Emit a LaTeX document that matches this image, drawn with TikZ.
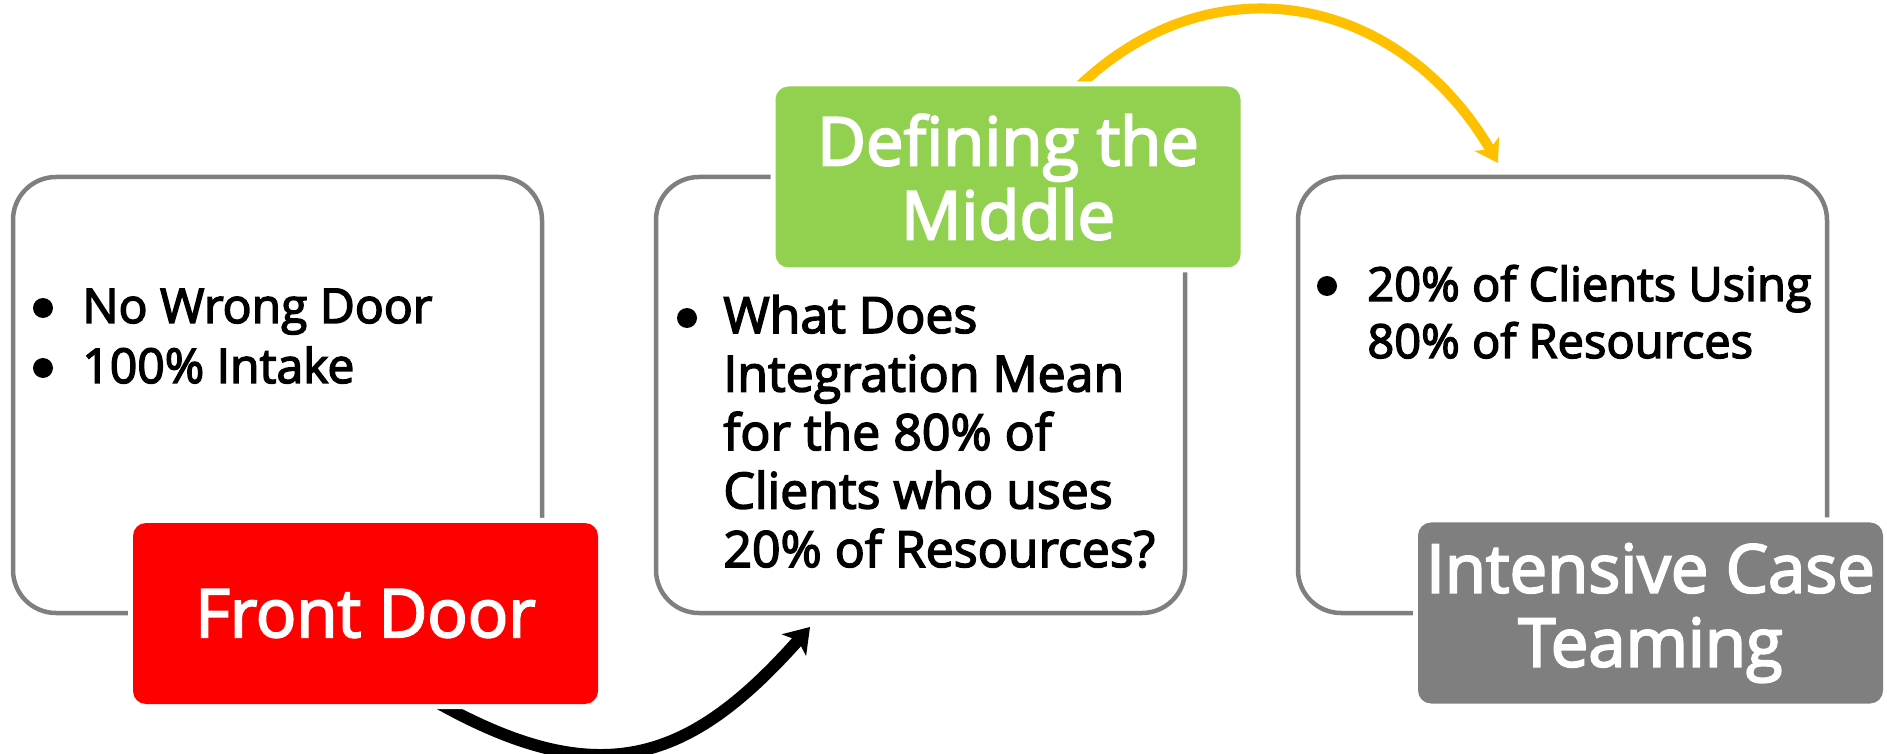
\documentclass[tikz,border=0pt]{standalone}
\usepackage{fontspec}
\setmainfont{Open Sans}
\newfontfamily\semifont{Open Sans}[FakeBold=3]
\usetikzlibrary{arrows.meta}
\definecolor{outl}{HTML}{7F7F7F}
\definecolor{redbox}{HTML}{FF0000}
\definecolor{greenbox}{HTML}{92D050}
\definecolor{graybox}{HTML}{7F7F7F}
\definecolor{arrowyellow}{HTML}{FFC000}
\begin{document}
\begin{tikzpicture}[x=0.5pt,y=-0.5pt,
  outlinebox/.style={draw=outl, line width=2.25pt, rounded corners=21.5pt, minimum width=264.5pt, minimum height=218pt, inner sep=0pt},
  headbox/.style={rounded corners=6.5pt, minimum width=232.5pt, minimum height=90.5pt, inner sep=0pt, text=white, align=center, font=\semifont\fontsize{33.5}{37}\selectfont, preaction={draw=white, line width=5pt}},
  bodyline/.style={anchor=base west, inner sep=0pt, font=\semifont\fontsize{24}{28}\selectfont},
  bodylinewide/.style={anchor=base west, inner sep=0pt, font=\semifont\fontsize{25}{28}\selectfont},
  bodylinenarrow/.style={anchor=base west, inner sep=0pt, font=\semifont\fontsize{23.5}{28}\selectfont},
  bulletdot/.style={circle, fill=black, minimum size=10pt, inner sep=0pt},
  blackarrow/.style={line width=6pt, -{Stealth[length=12pt,width=16pt,inset=3pt]}},
  yellowarrow/.style={draw=arrowyellow, line width=5pt, -{Stealth[length=11pt,width=14pt,inset=3pt]}},
]
\useasboundingbox (0,0) rectangle (1887,754);
% outline boxes
\node[outlinebox] (b1) at (277.5,395) {};
\node[outlinebox] (b2) at (920.5,395) {};
\node[outlinebox] (b3) at (1562.5,395) {};
% arrows
\coordinate (a1s) at (433,700);
\coordinate (a1e) at (810,627);
\draw[blackarrow] (a1s) .. controls (600,795) and (690,762) .. (a1e);
\coordinate (a2s) at (1073,92);
\coordinate (a2e) at (1498,163);
\draw[yellowarrow] (a2s) .. controls (1210,-45) and (1400,-5) .. (a2e);
% header boxes
\node[headbox, fill=redbox] (hd1) at (365.5,613.5) {Front Door};
\node[headbox, fill=greenbox] (hd2) at (1008,177) {Defining the\\Middle};
\node[headbox, fill=graybox] (hd3) at (1650.5,613) {Intensive Case\\Teaming};
% box 1 text
\node[bulletdot] (d11) at (43,308) {};
\node[bodyline] (t11) at (82,323) {No Wrong Door};
\node[bulletdot] (d12) at (43,368) {};
\node[bodyline] (t12) at (82,383) {100\% Intake};
% box 2 text
\node[bulletdot] (d21) at (687,318) {};
\node[bodylinewide] (t21) at (723,333) {What Does};
\node[bodylinewide] (t22) at (723,391.5) {Integration Mean};
\node[bodylinewide] (t23) at (723,450) {for the 80\% of};
\node[bodylinewide] (t24) at (723,508.5) {Clients who uses};
\node[bodylinewide] (t25) at (723,567) {20\% of Resources?};
% box 3 text
\node[bulletdot] (d31) at (1327,286) {};
\node[bodylinenarrow] (t31) at (1367,301) {20\% of Clients Using};
\node[bodylinenarrow] (t32) at (1367,358) {80\% of Resources};
\end{tikzpicture}
\end{document}
